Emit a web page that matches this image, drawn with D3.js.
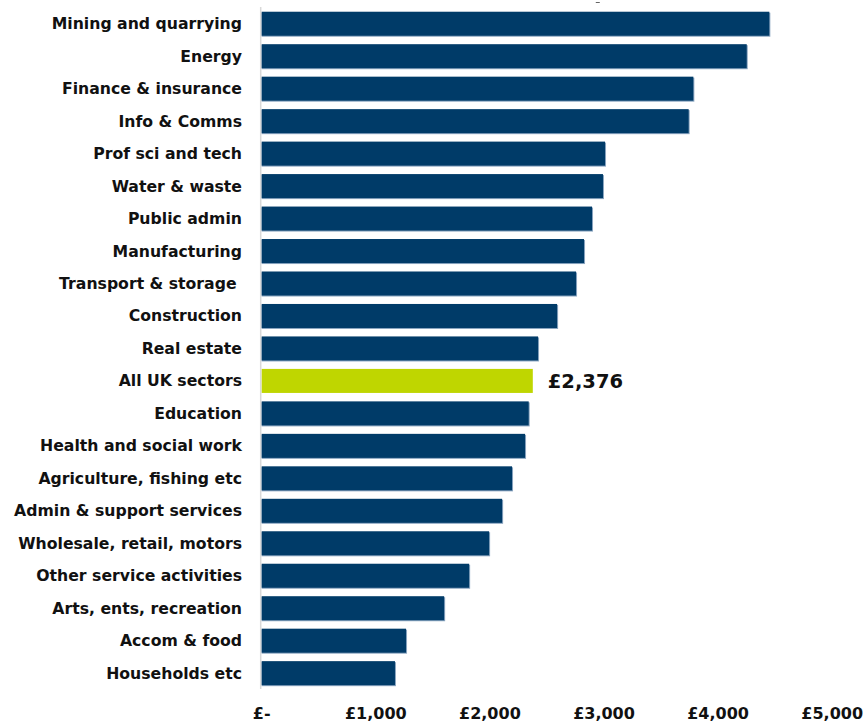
<!DOCTYPE html>
<html>
<head>
<meta charset="utf-8">
<script src="https://cdn.jsdelivr.net/npm/d3@7"></script>
<style>
  html, body { margin: 0; padding: 0; background: #fff; }
  svg { display: block; }
  text { font-family: "DejaVu Sans", Verdana, sans-serif; font-weight: bold; fill: #111; }
</style>
</head>
<body>
<svg id="chart" width="867" height="722"></svg>
<script>
const categories = [
  "Mining and quarrying", "Energy", "Finance & insurance", "Info & Comms",
  "Prof sci and tech", "Water & waste", "Public admin", "Manufacturing",
  "Transport & storage ", "Construction", "Real estate", "All UK sectors",
  "Education", "Health and social work", "Agriculture, fishing etc",
  "Admin & support services", "Wholesale, retail, motors", "Other service activities",
  "Arts, ents, recreation", "Accom & food", "Households etc"
];
const values = [
  4449, 4251, 3783, 3742, 3009, 2991, 2895, 2825, 2755, 2589, 2422, 2376,
  2340, 2308, 2194, 2107, 1993, 1818, 1599, 1265, 1168
];
const highlight = "All UK sectors";
const tickValues = [0, 1000, 2000, 3000, 4000, 5000];
const tickLabels = ["£-", "£1,000", "£2,000", "£3,000", "£4,000", "£5,000"];

const svg = d3.select("#chart");
const x0 = 261.7;
const x = d3.scaleLinear().domain([0, 5000]).range([x0, x0 + 570.5]);
const y = d3.scaleBand().domain(categories).range([7.5, 689.4])
  .paddingInner(0.26).paddingOuter(0.13);

const data = categories.map((c, i) => ({ c, v: values[i] }));

// axis line
svg.append("line")
  .attr("x1", x0 - 1).attr("x2", x0 - 1)
  .attr("y1", 7).attr("y2", 689)
  .attr("stroke", "#d9d9d9").attr("stroke-width", 1.5);

// small stray mark at top
svg.append("line")
  .attr("x1", x(2928)).attr("x2", x(2928) + 4)
  .attr("y1", 2.5).attr("y2", 2.5)
  .attr("stroke", "#666").attr("stroke-width", 1);

const g = svg.append("g");
// light edge (bottom/right shading)
g.selectAll("rect.edge").data(data.filter(d => d.c !== highlight)).join("rect")
  .attr("class", "edge")
  .attr("x", x0).attr("y", d => y(d.c) + 1)
  .attr("width", d => x(d.v) - x0 + 1)
  .attr("height", y.bandwidth())
  .attr("fill", "#8aa5c0");
g.selectAll("rect.bar").data(data).join("rect")
  .attr("class", "bar")
  .attr("x", x0).attr("y", d => y(d.c))
  .attr("width", d => x(d.v) - x0)
  .attr("height", y.bandwidth())
  .attr("fill", d => d.c === highlight ? "#bfd600" : "#003b68");

// category labels
svg.selectAll("text.cat").data(data).join("text")
  .attr("class", "cat")
  .attr("x", 242)
  .attr("y", d => y(d.c) + y.bandwidth() / 2)
  .attr("dy", "0.35em")
  .attr("text-anchor", "end")
  .attr("xml:space", "preserve")
  .style("white-space", "pre")
  .style("font-size", "15.7px")
  .text(d => d.c);

// value label for highlight
const hd = data.find(d => d.c === highlight);
svg.append("text")
  .attr("x", x(hd.v) + 15)
  .attr("y", y(hd.c) + y.bandwidth() / 2)
  .attr("dy", "0.37em")
  .style("font-size", "19.5px")
  .text("£" + d3.format(",")(hd.v));

// tick labels
svg.selectAll("text.tick").data(tickValues).join("text")
  .attr("class", "tick")
  .attr("x", d => x(d))
  .attr("y", 713)
  .attr("dy", "0.35em")
  .attr("text-anchor", "middle")
  .style("font-size", "16px")
  .text((d, i) => tickLabels[i]);
</script>
</body>
</html>
